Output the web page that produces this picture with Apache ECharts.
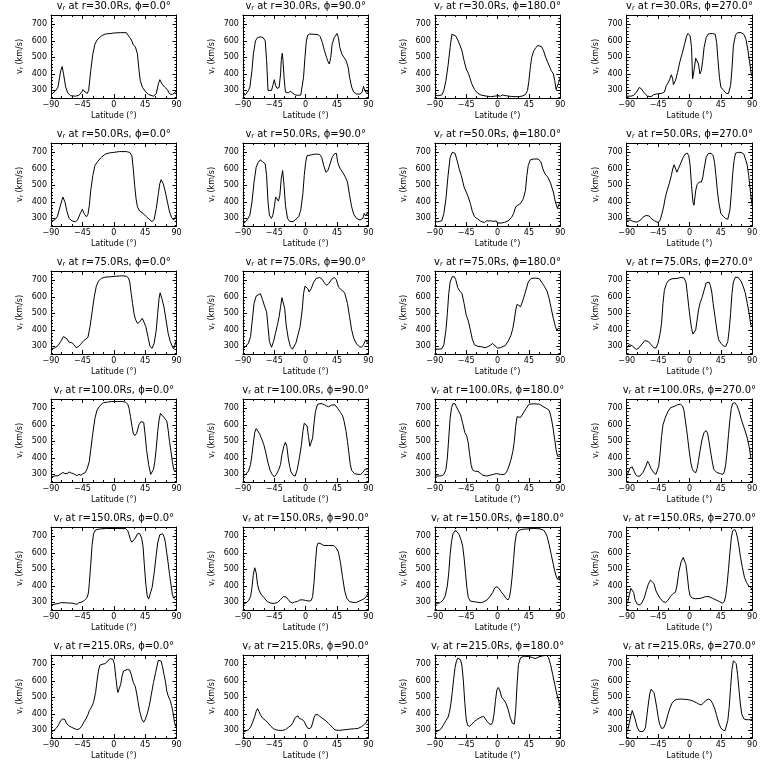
<!DOCTYPE html>
<html><head><meta charset="utf-8">
<script src="https://cdn.jsdelivr.net/npm/echarts@6/dist/echarts.min.js"></script>
<style>html,body{margin:0;padding:0;background:#fff}#c{width:768px;height:768px}</style>
</head><body><div id="c"></div><script>
const radii = [30, 50, 75, 100, 150, 215];
const phis = [0, 90, 180, 270];
const xMajor = [-90, -45, 0, 45, 90];
const yMajor = [300, 400, 500, 600, 700];
const yMin = 254, yMax = 757;

// [latitude (deg), v_r (km/s)]
const v30_p0 = [[-90,275],[-84,295],[-80,320],[-76,420],[-74,445],[-72,400],[-69,320],[-66,285],[-62,268],[-55,265],[-50,270],[-46,290],[-44,305],[-41,290],[-38,282],[-36,300],[-33,420],[-30,520],[-27,580],[-24,605],[-18,630],[-12,642],[-4,645],[0,648],[10,650],[18,650],[20,645],[23,620],[26,600],[28,575],[31,565],[34,520],[36,430],[38,360],[41,320],[45,295],[50,275],[57,265],[61,280],[64,340],[66,365],[69,340],[73,320],[77,305],[80,280],[84,275],[87,285],[89,290],[90,300]];
const v30_p90 = [[-90,270],[-86,275],[-82,300],[-80,320],[-77,420],[-75,520],[-72,600],[-69,620],[-65,625],[-61,620],[-58,600],[-56,480],[-54,300],[-52,288],[-49,300],[-47,330],[-45,365],[-43,330],[-41,312],[-38,318],[-36,400],[-35,480],[-33.5,525],[-32.5,480],[-31,380],[-29,290],[-27,280],[-25,285],[-22,295],[-19,285],[-16,275],[-12,270],[-7,272],[-5,280],[-3,380],[-1,500],[1,600],[3,635],[6,642],[12,640],[18,638],[21,625],[24,590],[27,540],[30,500],[32,475],[34,460],[36,500],[38,580],[41,620],[45,645],[47,620],[49,560],[52,520],[55,500],[58,480],[61,440],[63,380],[66,320],[69,290],[73,278],[78,278],[81,290],[83,325],[84,310],[86,290],[89,290],[90,300]];
const v30_p180 = [[-90,270],[-85,268],[-80,272],[-77,300],[-74,360],[-71,450],[-68,560],[-65.5,640],[-63,645],[-60,630],[-57,605],[-54,575],[-51,540],[-48,480],[-45,430],[-42,405],[-40,380],[-37,340],[-33,305],[-29,285],[-24,272],[-18,267],[-10,262],[-4,265],[-2,275],[0,268],[4,265],[7,272],[12,268],[20,263],[28,262],[35,265],[40,275],[43,300],[45,360],[47,440],[49,500],[52,540],[55,560],[58,572],[60,575],[63,565],[66,540],[69,500],[72,470],[75,440],[77,420],[78.5,432],[80,400],[82,360],[84,305],[85.5,300],[87,340],[89,365],[90,380]];
const v30_p270 = [[-90,265],[-84,265],[-80,270],[-76,290],[-72,318],[-69,310],[-65,285],[-60,265],[-55,262],[-51,275],[-45,280],[-40,282],[-36,290],[-33,330],[-30,350],[-28,370],[-26,395],[-24,370],[-23,335],[-20,360],[-17,410],[-14,470],[-10,530],[-7,580],[-4,630],[-2,645],[1,630],[3,560],[4.5,370],[6.5,420],[9,495],[11,505],[13,460],[15,400],[17,420],[19,480],[21,560],[24,620],[27,642],[33,645],[37,640],[39,590],[41,480],[43,380],[45,320],[49,300],[53,280],[56,282],[59,330],[61,430],[63,570],[66,635],[69,650],[74,650],[78,640],[81,610],[84,540],[86,480],[88,420],[89,390],[90,400]];

const v50_p0 = [[-90,283],[-85,290],[-81,310],[-77,370],[-73,430],[-70,400],[-67,340],[-64,300],[-60,285],[-55,280],[-52,290],[-48,330],[-45,355],[-42,325],[-39,310],[-37,325],[-35,380],[-33,470],[-30,560],[-27,620],[-24,640],[-18,670],[-12,690],[-5,698],[0,700],[8,705],[18,705],[23,700],[26,680],[28,600],[30,500],[32,420],[34,370],[37,345],[42,330],[47,310],[52,290],[55,280],[58,295],[61,360],[64,450],[66,510],[68,535],[71,510],[74,460],[77,400],[80,340],[83,305],[86,290],[88,295],[90,320]];
const v50_p90 = [[-90,265],[-85,285],[-80,320],[-77,400],[-74,520],[-71,610],[-68,640],[-65,655],[-62,645],[-58,630],[-56,560],[-54,400],[-52,320],[-49,300],[-47,320],[-45,370],[-43,430],[-41,420],[-39,405],[-37,440],[-35,540],[-33,590],[-31,500],[-29,380],[-26,300],[-23,282],[-18,280],[-14,295],[-10,310],[-7,350],[-4,450],[-2,560],[0,640],[2,680],[8,685],[14,690],[20,688],[23,670],[26,620],[29,580],[32,590],[35,630],[38,670],[41,690],[44,695],[46,640],[49,605],[53,580],[57,550],[60,520],[63,440],[66,370],[69,325],[73,300],[78,290],[82,300],[84,330],[85,340],[86,315],[88,330],[90,325]];
const v50_p180 = [[-90,280],[-85,280],[-80,285],[-77,330],[-74,420],[-71,560],[-68,670],[-65,700],[-61,695],[-58,650],[-55,600],[-52,560],[-48,490],[-45,460],[-42,430],[-39,390],[-36,340],[-33,310],[-28,295],[-24,282],[-19,275],[-16,285],[-10,285],[-5,282],[-2,285],[0,272],[5,272],[10,276],[15,285],[20,305],[23,330],[26,370],[29,380],[33,390],[37,420],[40,470],[42,560],[44,620],[47,655],[52,660],[58,660],[62,645],[65,600],[68,570],[72,550],[76,515],[80,460],[83,400],[86,360],[88,385],[90,400]];
const v50_p270 = [[-90,290],[-85,290],[-80,280],[-75,278],[-70,290],[-66,310],[-62,318],[-58,315],[-55,300],[-50,285],[-45,275],[-42,290],[-40,320],[-37,370],[-35,420],[-32,470],[-29,510],[-26,560],[-24,600],[-22,625],[-20,615],[-18,580],[-16,600],[-12,640],[-9,670],[-6,690],[-3,695],[-1,680],[1,620],[3,500],[5,400],[6.5,380],[9,470],[11,505],[14,520],[17,520],[19,545],[21,600],[24,670],[27,693],[31,695],[34,680],[36,640],[38,560],[40,470],[42,400],[45,330],[49,310],[52,300],[55,295],[58,350],[60,450],[62,570],[64,650],[66,695],[70,700],[74,700],[78,690],[81,650],[83,620],[85,560],[87,480],[88.5,420],[90,380]];

const v75_p0 = [[-90,285],[-85,290],[-80,305],[-76,330],[-72,360],[-70,365],[-67,345],[-64,325],[-60,322],[-57,310],[-54,292],[-51,298],[-48,310],[-46,305],[-43,335],[-40,345],[-37,355],[-34,420],[-31,510],[-28,600],[-25,665],[-22,695],[-18,712],[-12,720],[-5,722],[3,725],[12,728],[18,725],[21,715],[23,690],[25,620],[27,560],[29,500],[31,465],[34,440],[37,448],[41,470],[43,465],[46,420],[49,360],[52,300],[55,288],[58,320],[61,400],[63,500],[65,590],[66.5,625],[69,590],[72,540],[75,460],[78,380],[81,330],[84,300],[86,285],[88,295],[90,340]];
const v75_p90 = [[-90,285],[-86,300],[-82,320],[-79,360],[-77,440],[-74,560],[-71,605],[-68,612],[-65,620],[-62,585],[-59,545],[-56,510],[-54,420],[-52,330],[-49,295],[-46,330],[-43,385],[-40,440],[-38,480],[-36,540],[-34,595],[-32,600],[-30,530],[-28,430],[-25,350],[-22,300],[-19,283],[-17,280],[-14,320],[-11,370],[-8,420],[-5,520],[-3,620],[-1,665],[1,670],[3,650],[5,630],[8,650],[11,685],[15,712],[20,718],[24,705],[27,685],[30,670],[33,680],[37,705],[41,718],[44,705],[47,660],[52,640],[56,625],[60,560],[63,480],[66,400],[69,350],[73,315],[77,298],[80,295],[83,310],[86,340],[88,325],[90,330]];
const v75_p180 = [[-90,285],[-85,283],[-80,285],[-77,310],[-74,400],[-72,500],[-70,620],[-68,690],[-65,722],[-62,722],[-60,705],[-57,655],[-54,635],[-51,620],[-48,560],[-45,490],[-42,455],[-39,400],[-36,340],[-33,310],[-28,300],[-23,298],[-18,292],[-14,298],[-10,308],[-7,318],[-4,305],[0,290],[4,292],[8,300],[11,305],[15,330],[19,365],[22,410],[24,460],[26,520],[28,555],[30,558],[33,540],[36,575],[40,630],[44,690],[48,712],[55,714],[60,710],[63,690],[67,665],[71,635],[74,590],[77,530],[80,470],[83,420],[85,395],[87,410],[90,405]];
const v75_p270 = [[-90,290],[-87,310],[-85,318],[-82,305],[-79,290],[-76,282],[-72,293],[-68,315],[-64,335],[-62,345],[-59,330],[-55,310],[-51,292],[-48,290],[-45,320],[-42,380],[-40,440],[-38,560],[-36,640],[-33,680],[-30,700],[-25,710],[-18,712],[-12,718],[-8,715],[-5,690],[-3,620],[-1,540],[1,470],[3,410],[5,375],[7,375],[9,400],[11,460],[13,520],[15,560],[18,595],[21,640],[24,685],[28,690],[30,670],[32,630],[34,560],[37,470],[40,380],[42,340],[45,320],[49,302],[52,300],[55,330],[57,400],[59,500],[61,620],[63,690],[66,720],[70,718],[74,695],[77,665],[80,625],[83,560],[86,490],[88,430],[90,420]];

const v100_p0 = [[-90,285],[-85,290],[-80,292],[-77,300],[-73,312],[-70,305],[-67,305],[-64,315],[-61,308],[-58,305],[-56,315],[-53,292],[-50,300],[-47,295],[-44,305],[-41,310],[-38,335],[-35,380],[-33,450],[-30,550],[-27,640],[-24,690],[-20,715],[-15,735],[-9,738],[-3,742],[5,742],[12,742],[17,738],[20,725],[22,700],[24,650],[26,595],[28,550],[30,535],[33,550],[36,600],[39,620],[41,625],[43,615],[45,540],[47,450],[50,360],[53,300],[55,302],[57,330],[59,380],[61,460],[63,560],[65,630],[67,670],[70,655],[73,640],[76,625],[78,570],[80,500],[82,440],[84,380],[86,330],[88,315],[90,330]];
const v100_p90 = [[-90,290],[-86,300],[-82,320],[-79,360],[-77,420],[-75,490],[-73,555],[-71,578],[-69,572],[-66,545],[-63,515],[-60,480],[-57,430],[-54,370],[-51,325],[-48,300],[-45,285],[-42,300],[-39,325],[-36,360],[-34,420],[-31,475],[-29,495],[-27,470],[-25,400],[-23,350],[-21,315],[-18,295],[-15,290],[-12,330],[-9,400],[-6,480],[-4,560],[-2,610],[0,615],[2,595],[4,530],[6,470],[8,460],[10,520],[12,610],[14,680],[17,725],[22,730],[27,722],[30,715],[33,710],[37,720],[42,722],[46,700],[50,675],[53,655],[55,625],[58,560],[60,500],[62,430],[64,360],[66,325],[70,305],[75,300],[79,300],[82,312],[85,330],[87,320],[90,335]];
const v100_p180 = [[-90,290],[-85,290],[-80,292],[-77,300],[-74,330],[-72,400],[-70,520],[-68,640],[-66,705],[-64,728],[-61,728],[-59,710],[-56,685],[-53,660],[-50,610],[-47,555],[-44,530],[-42,490],[-40,420],[-38,360],[-36,328],[-33,320],[-31,325],[-28,318],[-25,308],[-21,295],[-16,290],[-11,295],[-6,300],[-2,305],[0,303],[4,300],[10,300],[13,315],[16,345],[19,385],[22,440],[24,500],[26,590],[28,650],[30,655],[33,645],[35,655],[38,680],[41,700],[45,725],[52,728],[60,725],[65,712],[70,700],[74,688],[76,660],[78,620],[80,570],[82,510],[84,450],[86,410],[88,420],[90,410]];
const v100_p270 = [[-90,290],[-87,320],[-85,340],[-82,345],[-80,325],[-77,298],[-74,288],[-71,290],[-67,310],[-63,345],[-60,380],[-58,365],[-55,335],[-51,310],[-48,300],[-46,310],[-44,350],[-42,430],[-40,530],[-38,600],[-35,640],[-31,680],[-27,705],[-22,712],[-17,722],[-13,725],[-10,715],[-8,690],[-6,630],[-4,570],[-2,500],[0,430],[2,370],[4,335],[6,318],[9,310],[11,335],[13,385],[15,440],[18,510],[21,555],[24,565],[26,550],[28,500],[31,420],[33,370],[35,330],[39,312],[44,305],[48,300],[50,315],[52,360],[54,440],[56,540],[58,630],[60,700],[62,730],[65,735],[68,718],[71,685],[75,625],[79,575],[83,520],[86,460],[88,400],[90,395]];

const v150_p0 = [[-90,285],[-84,290],[-80,293],[-76,298],[-70,298],[-65,296],[-60,296],[-56,292],[-53,288],[-50,298],[-46,302],[-42,312],[-39,325],[-37,345],[-36,370],[-35,420],[-33,530],[-31,650],[-29,715],[-26,740],[-20,745],[-10,748],[5,748],[17,747],[20,735],[22,710],[24,680],[26,665],[28,668],[31,690],[34,715],[37,718],[40,690],[42,640],[44,520],[46,410],[48,340],[50,320],[52,330],[55,390],[58,480],[61,590],[63,660],[66,710],[70,716],[72,700],[74,665],[76,600],[78,540],[80,470],[82,410],[84,350],[86,325],[88,320],[90,340]];
const v150_p90 = [[-90,290],[-86,295],[-82,310],[-79,335],[-77,390],[-75,470],[-73,510],[-71,480],[-69,410],[-67,375],[-64,350],[-60,330],[-55,305],[-50,295],[-45,294],[-40,300],[-36,318],[-32,335],[-28,333],[-25,318],[-22,302],[-19,296],[-16,302],[-12,305],[-9,314],[-5,316],[0,312],[5,308],[8,312],[10,335],[12,420],[14,540],[16,640],[18,660],[22,655],[26,645],[33,645],[40,645],[44,630],[47,605],[50,540],[53,450],[56,370],[59,325],[63,305],[68,300],[73,300],[78,310],[83,320],[87,335],[90,360]];
const v150_p180 = [[-90,290],[-86,292],[-82,300],[-78,315],[-75,340],[-72,400],[-70,480],[-68,590],[-66,670],[-64,715],[-61,735],[-58,728],[-55,710],[-52,675],[-50,640],[-48,570],[-46,480],[-44,390],[-42,330],[-39,308],[-35,305],[-30,302],[-25,298],[-20,303],[-15,315],[-11,335],[-7,360],[-4,388],[-1,395],[2,385],[5,365],[9,345],[12,325],[15,315],[17,330],[19,380],[21,460],[23,560],[25,660],[27,715],[30,735],[35,743],[42,745],[52,748],[60,746],[66,738],[69,720],[71,700],[74,650],[77,590],[80,530],[82,490],[84,460],[86,440],[88,455],[90,430]];
const v150_p270 = [[-90,290],[-88,310],[-86,350],[-84,385],[-82,390],[-80,360],[-78,315],[-75,290],[-72,285],[-69,292],[-65,325],[-62,370],[-59,410],[-56,435],[-54,440],[-51,415],[-48,370],[-45,345],[-42,325],[-38,305],[-34,300],[-31,312],[-27,338],[-23,355],[-20,362],[-18,400],[-15,490],[-12,545],[-9,572],[-7,572],[-5,530],[-3,460],[-1,380],[1,340],[4,326],[9,322],[16,325],[23,335],[28,335],[33,325],[38,315],[43,305],[47,295],[50,305],[52,340],[54,410],[56,500],[58,600],[60,690],[62,735],[65,742],[67,725],[69,690],[71,640],[73,580],[76,510],[79,450],[82,420],[85,400],[88,390],[90,380]];

const v215_p0 = [[-90,290],[-86,300],[-82,315],[-79,335],[-76,360],[-73,370],[-70,365],[-68,345],[-65,330],[-61,320],[-57,312],[-53,305],[-49,310],[-46,325],[-43,350],[-40,370],[-37,395],[-35,420],[-32,440],[-29,470],[-26,530],[-24,600],[-22,660],[-20,695],[-17,700],[-15,688],[-12,705],[-8,725],[-5,735],[-3,740],[-1,730],[1,700],[3,620],[5,550],[6,530],[8,540],[10,580],[12,630],[14,660],[16,672],[20,670],[23,665],[25,640],[28,590],[31,565],[33,520],[35,470],[37,420],[40,370],[43,350],[45,365],[48,400],[51,450],[54,520],[57,590],[60,650],[62,690],[64,725],[66,735],[68,720],[70,685],[72,640],[74,600],[76,540],[78,510],[81,480],[83,450],[85,410],[87,350],[89,325],[90,320]];
const v215_p90 = [[-90,290],[-86,295],[-82,305],[-79,320],[-76,350],[-73,385],[-71,415],[-69,432],[-67,415],[-65,395],[-62,375],[-58,362],[-54,345],[-50,325],[-46,310],[-42,303],[-38,300],[-33,300],[-29,305],[-25,318],[-21,330],[-18,350],[-15,378],[-13,388],[-11,388],[-9,372],[-6,368],[-3,360],[-1,345],[2,318],[5,310],[8,318],[10,345],[12,378],[14,395],[16,400],[18,395],[21,382],[25,370],[29,358],[33,342],[38,320],[42,303],[47,300],[52,302],[58,305],[64,308],[70,310],[75,312],[80,322],[84,335],[87,350],[90,370]];
const v215_p180 = [[-90,290],[-86,295],[-82,305],[-78,330],[-74,360],[-71,380],[-69,410],[-67,460],[-65,530],[-63,610],[-61,680],[-59,720],[-57,738],[-55,740],[-53,728],[-51,690],[-49,600],[-47,470],[-45,370],[-43,330],[-40,325],[-37,338],[-33,355],[-28,370],[-24,380],[-20,385],[-18,378],[-15,355],[-12,340],[-9,335],[-7,350],[-5,400],[-3,480],[-1,545],[1,560],[3,545],[6,500],[9,485],[12,465],[15,430],[18,380],[21,345],[24,338],[26,420],[28,580],[30,700],[33,740],[38,750],[44,748],[50,742],[54,735],[59,745],[65,752],[70,755],[73,742],[76,700],[79,640],[82,580],[85,520],[87,490],[90,440]];
const v215_p270 = [[-90,290],[-88,310],[-86,350],[-84,390],[-82,420],[-80,410],[-78,370],[-75,320],[-72,295],[-68,292],[-65,300],[-63,320],[-61,390],[-59,460],[-57,520],[-55,550],[-53,555],[-51,530],[-49,490],[-47,440],[-45,385],[-43,340],[-40,312],[-37,315],[-34,345],[-31,395],[-28,435],[-25,465],[-22,480],[-19,488],[-12,490],[-5,488],[0,485],[5,478],[10,468],[14,458],[17,455],[20,465],[23,480],[27,490],[30,485],[33,465],[36,435],[39,390],[42,345],[45,315],[48,302],[51,298],[53,310],[55,360],[57,440],[59,560],[61,670],[63,722],[65,728],[67,705],[69,640],[71,550],[73,460],[75,400],[78,370],[81,365],[85,365],[88,365],[90,370]];

const panels = [
  [v30_p0, v30_p90, v30_p180, v30_p270],
  [v50_p0, v50_p90, v50_p180, v50_p270],
  [v75_p0, v75_p90, v75_p180, v75_p270],
  [v100_p0, v100_p90, v100_p180, v100_p270],
  [v150_p0, v150_p90, v150_p180, v150_p270],
  [v215_p0, v215_p90, v215_p180, v215_p270]
];

// layout
const FONT = 'DejaVu Sans';
const LEFT0 = 51, COL_STEP = 191.9, TOP0 = 15, ROW_STEP = 128, GW = 125.5, GH = 83;
const yMinor = [];
for (let v = 260; v < yMax; v += 20) if (v % 100 !== 0) yMinor.push(v);

const black = '#000';
const grids = [], xAxes = [], yAxes = [], series = [], titles = [];
const rich = {
  m: {fontFamily: FONT, fontSize: 10, fontWeight: 'normal', color: black, lineHeight: 12},
  s: {fontFamily: FONT, fontSize: 6.5, fontWeight: 'normal', color: black, verticalAlign: 'bottom', lineHeight: 12},
};
const richY = {
  m: {fontFamily: FONT, fontSize: 8, color: black, lineHeight: 10},
  s: {fontFamily: FONT, fontSize: 5.5, color: black, verticalAlign: 'bottom', lineHeight: 10},
};
const minus = v => String(v).replace('-', '\u2212');

radii.forEach((r, ri) => {
  phis.forEach((p, ci) => {
    const gi = grids.length;
    const left = LEFT0 + ci * COL_STEP, top = TOP0 + ri * ROW_STEP;
    grids.push({left: left, top: top, width: GW, height: GH, containLabel: false});
    titles.push({
      text: '{m|v}{s|r}{m| at r=' + r.toFixed(1) + 'Rs, ϕ=' + p.toFixed(1) + '°}',
      left: left + GW / 2, top: top - 15, textAlign: 'center', padding: 0,
      textStyle: {fontWeight: 'normal', rich: rich}
    });
    const xBase = {
      gridIndex: gi, type: 'value', min: -90, max: 90, interval: 45,
      axisLine: {show: true, onZero: false, lineStyle: {color: black, width: 1}},
      axisTick: {show: true, inside: true, length: 4, lineStyle: {color: black, width: 1}},
      minorTick: {show: true, splitNumber: 3, length: 2, lineStyle: {color: black, width: 1}},
      splitLine: {show: false}
    };
    xAxes.push(Object.assign({}, xBase, {
      position: 'bottom',
      axisLabel: {show: true, fontFamily: FONT, fontSize: 8, color: black, margin: 3,
        customValues: xMajor, formatter: minus},
      name: 'Latitude (°)', nameLocation: 'middle', nameGap: 14,
      nameTextStyle: {fontFamily: FONT, fontSize: 8, color: black}
    }));
    xAxes.push(Object.assign({}, xBase, {position: 'top', axisLabel: {show: false}}));
    const yBase = {
      gridIndex: gi, type: 'value', min: yMin, max: yMax, splitLine: {show: false}
    };
    yAxes.push(Object.assign({}, yBase, {
      position: 'left', offset: 0,
      axisLine: {show: true, onZero: false, lineStyle: {color: black, width: 1}},
      axisTick: {show: true, inside: true, length: 4, customValues: yMajor, lineStyle: {color: black}},
      axisLabel: {show: true, customValues: yMajor, fontFamily: FONT, fontSize: 8, color: black, margin: 4},
      name: '{m|v}{s|r}{m| (km/s)}', nameLocation: 'middle', nameGap: 26,
      nameTextStyle: {rich: richY}
    }));
    yAxes.push(Object.assign({}, yBase, {
      position: 'left', offset: 0,
      axisLine: {show: false, onZero: false},
      axisTick: {show: true, inside: true, length: 2, customValues: yMinor, lineStyle: {color: black}},
      axisLabel: {show: false}
    }));
    yAxes.push(Object.assign({}, yBase, {
      position: 'right', offset: 0,
      axisLine: {show: true, onZero: false, lineStyle: {color: black, width: 1}},
      axisTick: {show: true, inside: true, length: 4, customValues: yMajor, lineStyle: {color: black}},
      axisLabel: {show: false}
    }));
    yAxes.push(Object.assign({}, yBase, {
      position: 'right', offset: 0,
      axisLine: {show: false, onZero: false},
      axisTick: {show: true, inside: true, length: 2, customValues: yMinor, lineStyle: {color: black}},
      axisLabel: {show: false}
    }));
    series.push({
      type: 'line', xAxisIndex: gi * 2, yAxisIndex: gi * 4,
      data: panels[ri][ci], showSymbol: false, symbol: 'none', smooth: false,
      lineStyle: {color: black, width: 1}, animation: false, silent: true
    });
  });
});

const chart = echarts.init(document.getElementById('c'), null, {renderer: 'canvas'});
chart.setOption({
  backgroundColor: '#fff', animation: false,
  title: titles, grid: grids, xAxis: xAxes, yAxis: yAxes, series: series
});
</script></body></html>
